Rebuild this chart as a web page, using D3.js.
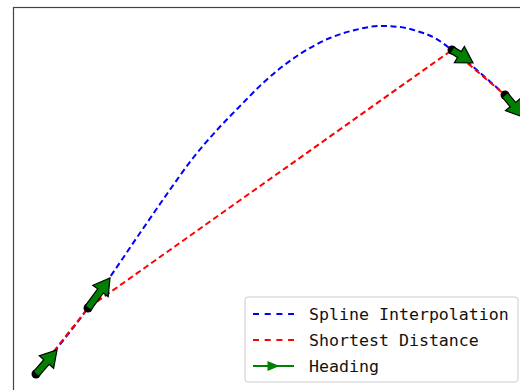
<!DOCTYPE html>
<html>
<head>
<meta charset="utf-8">
<script src="https://d3js.org/d3.v7.min.js"></script>
<style>
  body { margin: 0; background: #fff; }
</style>
</head>
<body>
<div id="chart"></div>
<script>
// waypoints (data units)
var wayX = [0, 1.04, 8.32, 9.38];
var wayY = [0, 1.32, 6.48, 5.58];
// heading arrows (dx, dy in data units)
var headDX = [0.42, 0.44, 0.42, 0.36];
var headDY = [0.48, 0.60, -0.26, -0.44];
// spline samples
var splineX = [0, 1.04, 1.48, 2.08, 2.62, 3.14, 3.62, 4.12, 4.54, 5.22, 5.88, 6.38, 6.88, 7.28, 7.62, 7.98, 8.32, 9.38];
var splineY = [0, 1.32, 1.94, 2.82, 3.60, 4.32, 4.88, 5.40, 5.82, 6.36, 6.72, 6.88, 6.96, 6.94, 6.86, 6.72, 6.48, 5.58];
var xlim = [-0.44, 11];
var ylim = [-0.8, 7.32];
var legendLabels = ["Spline Interpolation", "Shortest Distance", "Heading"];

var W = 520, H = 390;
var svg = d3.select("#chart").append("svg")
  .attr("width", W).attr("height", H);

var x = d3.scaleLinear().domain([0, 10]).range([36, 536]);
var y = d3.scaleLinear().domain([0, 10]).range([374, -126]);

// axes frame (only left/top visible)
svg.append("rect")
  .attr("x", x(xlim[0]) - 0.5)
  .attr("y", y(ylim[1]) - 0.5)
  .attr("width", x(xlim[1]) - x(xlim[0]))
  .attr("height", y(ylim[0]) - y(ylim[1]))
  .attr("fill", "none")
  .attr("stroke", "#444")
  .attr("stroke-width", 1.2);

var line = d3.line().x(function(d) { return x(d[0]); }).y(function(d) { return y(d[1]); });

var splinePts = d3.zip(splineX, splineY);
var wayPts = d3.zip(wayX, wayY);

svg.append("path")
  .attr("d", line.curve(d3.curveMonotoneX)(splinePts))
  .attr("fill", "none")
  .attr("stroke", "#0000ff")
  .attr("stroke-width", 2)
  .attr("stroke-dasharray", "6,3.5");

svg.append("path")
  .attr("d", line.curve(d3.curveLinear)(wayPts))
  .attr("fill", "none")
  .attr("stroke", "#ff0000")
  .attr("stroke-width", 2)
  .attr("stroke-dasharray", "6,3.5");

function arrowPoly(tx, ty, hx, hy) {
  var dx = hx - tx, dy = hy - ty;
  var len = Math.sqrt(dx * dx + dy * dy);
  var ux = dx / len, uy = dy / len;
  var nx = -uy, ny = ux;
  var w = 7, hw = 19, hl = 16;
  var bx = hx - ux * hl, by = hy - uy * hl;
  return [
    [tx + nx * w / 2, ty + ny * w / 2],
    [bx + nx * w / 2, by + ny * w / 2],
    [bx + nx * hw / 2, by + ny * hw / 2],
    [hx, hy],
    [bx - nx * hw / 2, by - ny * hw / 2],
    [bx - nx * w / 2, by - ny * w / 2],
    [tx - nx * w / 2, ty - ny * w / 2]
  ];
}

wayPts.forEach(function(p, i) {
  svg.append("circle")
    .attr("cx", x(p[0])).attr("cy", y(p[1])).attr("r", 4.5)
    .attr("fill", "#000");
  var poly = arrowPoly(x(p[0]), y(p[1]), x(p[0] + headDX[i]), y(p[1] + headDY[i]));
  svg.append("path")
    .attr("d", "M" + poly.map(function(q) { return q.join(","); }).join("L") + "Z")
    .attr("fill", "#008000")
    .attr("stroke", "#000")
    .attr("stroke-width", 1.2)
    .attr("stroke-linejoin", "miter");
});

// legend
var lg = svg.append("g").attr("transform", "translate(245,297)");
lg.append("rect")
  .attr("width", 273).attr("height", 85)
  .attr("rx", 3)
  .attr("fill", "#fff").attr("fill-opacity", 0.85)
  .attr("stroke", "#ccc").attr("stroke-width", 1);

var colors = ["#0000ff", "#ff0000", "#008000"];
legendLabels.forEach(function(lab, i) {
  var cy = 17 + i * 26;
  lg.append("line")
    .attr("x1", 8).attr("x2", 49).attr("y1", cy).attr("y2", cy)
    .attr("stroke", colors[i]).attr("stroke-width", 2)
    .attr("stroke-dasharray", i < 2 ? "6,5.7" : null);
  if (i == 2) {
    lg.append("path")
      .attr("d", "M" + (28.5 - 6) + "," + (cy - 5) + "L" + (28.5 + 6) + "," + cy + "L" + (28.5 - 6) + "," + (cy + 5) + "Z")
      .attr("fill", "#008000");
  }
  lg.append("text")
    .attr("x", 64).attr("y", cy)
    .attr("dy", "0.36em")
    .style("font-family", "'DejaVu Sans Mono', monospace")
    .style("font-size", "16.6px")
    .attr("fill", "#111")
    .text(lab);
});
</script>
</body>
</html>
